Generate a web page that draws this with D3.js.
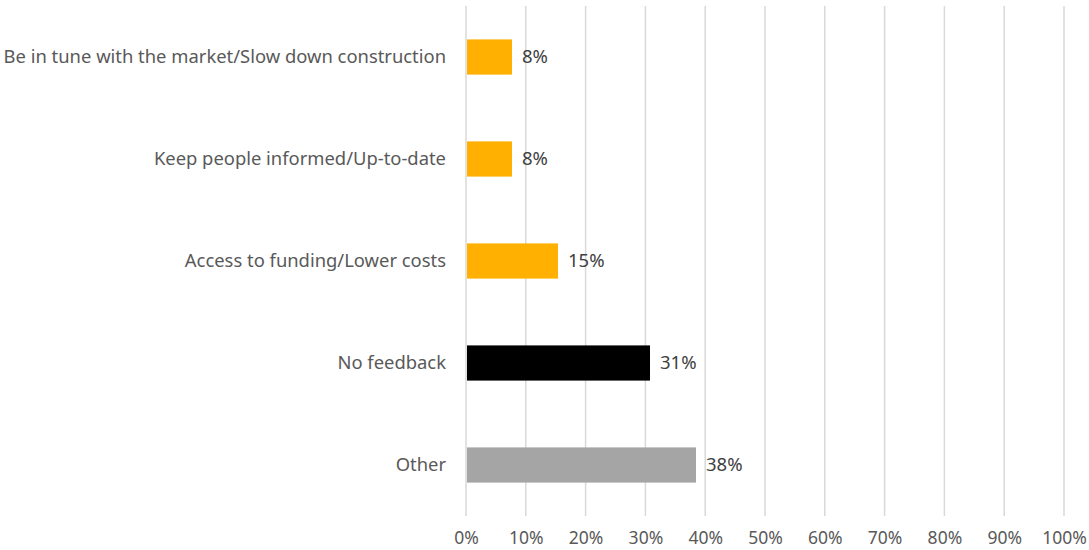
<!DOCTYPE html>
<html>
<head>
<meta charset="utf-8">
<script src="https://cdn.jsdelivr.net/npm/d3@7"></script>
<style>
  html, body { margin: 0; padding: 0; background: #fff; }
  svg { display: block; }
  text { font-family: "Noto Sans", "Open Sans", sans-serif; }
</style>
</head>
<body>
<svg id="chart" width="1089" height="550"></svg>
<script>
// Survey responses (share of respondents, %)
const categories = [
  "Be in tune with the market/Slow down construction",
  "Keep people informed/Up-to-date",
  "Access to funding/Lower costs",
  "No feedback",
  "Other"
];
const values = [7.69, 7.69, 15.38, 30.77, 38.46];
const barColors = ["#ffb000", "#ffb000", "#ffb000", "#000000", "#a5a5a5"];
const tickValues = [0, 10, 20, 30, 40, 50, 60, 70, 80, 90, 100];

const svg = d3.select("#chart");
const margin = { top: 6, right: 25, bottom: 34, left: 466 };
const width = 1089 - margin.left - margin.right;
const height = 550 - margin.top - margin.bottom;

const g = svg.append("g").attr("transform", `translate(${margin.left},${margin.top})`);

const x = d3.scaleLinear().domain([0, 100]).range([0, width]);
const y = d3.scaleBand().domain(categories).range([0, height]).paddingInner(0.655).paddingOuter(0.3275);

// vertical gridlines
g.append("g")
  .selectAll("line")
  .data(tickValues)
  .join("line")
  .attr("x1", d => x(d)).attr("x2", d => x(d))
  .attr("y1", 0).attr("y2", height)
  .attr("stroke", "#d9d9d9")
  .attr("stroke-width", 1.5);

// bottom axis labels
const xAxis = d3.axisBottom(x).tickValues(tickValues).tickFormat(d => d + "%").tickSize(0).tickPadding(16);
const ax = g.append("g").attr("transform", `translate(0,${height})`).call(xAxis);
ax.select(".domain").remove();
ax.selectAll("text").attr("fill", "#595959").style("font-size", "17.5px").style("font-family", '"Noto Sans", sans-serif');

// category labels
const yAxis = d3.axisLeft(y).tickSize(0).tickPadding(20);
const ay = g.append("g").call(yAxis);
ay.select(".domain").remove();
ay.selectAll("text").attr("fill", "#595959").style("font-size", "18.4px").style("font-family", '"Noto Sans", sans-serif');

// bars
g.append("g")
  .selectAll("rect")
  .data(categories)
  .join("rect")
  .attr("x", x(0) + 1)
  .attr("y", d => y(d))
  .attr("width", (d, i) => x(values[i]) - x(0) - 1)
  .attr("height", y.bandwidth())
  .attr("fill", (d, i) => barColors[i]);

// value labels
g.append("g")
  .selectAll("text")
  .data(categories)
  .join("text")
  .attr("x", (d, i) => x(values[i]) + 10)
  .attr("y", d => y(d) + y.bandwidth() / 2)
  .attr("dy", "0.35em")
  .attr("fill", "#404040")
  .style("font-size", "18.5px")
  .text((d, i) => Math.round(values[i]) + "%");
</script>
</body>
</html>
